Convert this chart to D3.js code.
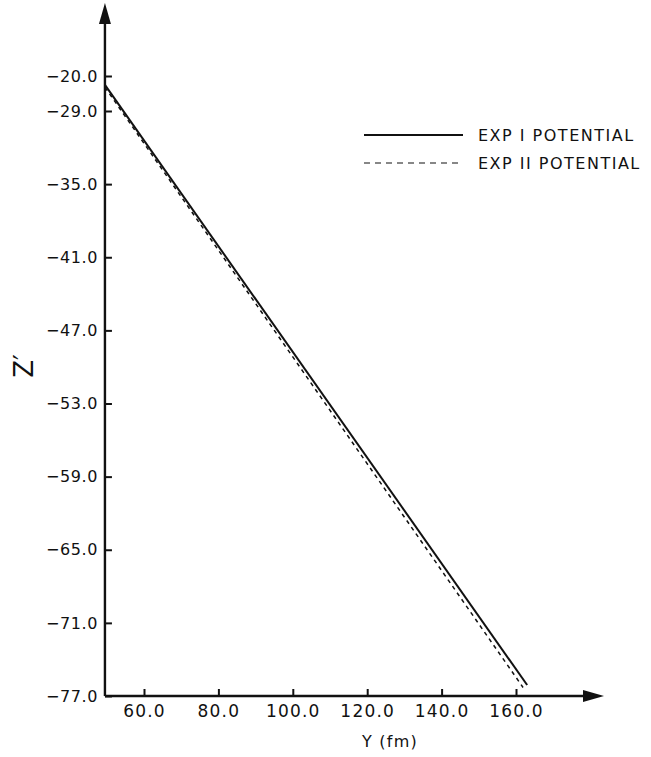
<!DOCTYPE html>
<html>
<head>
<meta charset="utf-8">
<script src="https://cdn.jsdelivr.net/npm/d3@7"></script>
<style>
  body { margin: 0; background: #fff; }
  svg { display: block; }
  text { font-family: "DejaVu Sans", sans-serif; fill: #111; }
</style>
</head>
<body>
<svg width="651" height="757"></svg>
<script>
const width = 651, height = 757;

// data
const yTicks = [-20, -29, -35, -41, -47, -53, -59, -65, -71, -77];
const xTicks = [60, 80, 100, 120, 140, 160];
const exp1Y = [49.5, 163.0];
const exp1Z = [-22.3, -76.1];
const exp2Y = [49.5, 161.9];
const exp2Z = [-22.9, -76.3];
const legendLabels = ["EXP I POTENTIAL", "EXP II POTENTIAL"];

const svg = d3.select("svg");

const x = d3.scaleLinear().domain([60, 160]).range([144, 516]);
// the axis has a break above -29
const y = d3.scaleLinear().domain([-77, -29, -20]).range([696, 111, 76]);

const x0 = x(49.5), y0 = y(-77);

// axes lines with arrows
svg.append("line")
    .attr("x1", x0).attr("x2", x0)
    .attr("y1", y0).attr("y2", 20)
    .attr("stroke", "#111").attr("stroke-width", 2.4);
svg.append("polygon")
    .attr("points", `${x0},3 ${x0 - 6},24 ${x0 + 6},24`)
    .attr("fill", "#111");

svg.append("line")
    .attr("x1", x0).attr("x2", 588)
    .attr("y1", y0).attr("y2", y0)
    .attr("stroke", "#111").attr("stroke-width", 2.4);
svg.append("polygon")
    .attr("points", `604,${y0} 583,${y0 - 6} 583,${y0 + 6}`)
    .attr("fill", "#111");

// y ticks (pointing inward)
const yAxis = svg.append("g")
    .attr("transform", `translate(${x0},0)`)
    .call(d3.axisLeft(y).tickValues(yTicks)
        .tickSizeInner(-7).tickSizeOuter(0).tickPadding(7)
        .tickFormat(d => "\u2212" + Math.abs(d).toFixed(1)));
yAxis.select(".domain").remove();
yAxis.selectAll(".tick line").attr("stroke", "#111").attr("stroke-width", 2);
yAxis.selectAll(".tick text")
    .style("font-size", "16px")
    .style("letter-spacing", "0.6px");

// x ticks
const xAxis = svg.append("g")
    .attr("transform", `translate(0,${y0})`)
    .call(d3.axisBottom(x).tickValues(xTicks)
        .tickSizeInner(-7).tickSizeOuter(0).tickPadding(9)
        .tickFormat(d => d.toFixed(1)));
xAxis.select(".domain").remove();
xAxis.selectAll(".tick line").attr("stroke", "#111").attr("stroke-width", 2);
xAxis.selectAll(".tick text")
    .style("font-size", "17px")
    .style("letter-spacing", "1.2px");

// axis titles
svg.append("text")
    .attr("x", 390).attr("y", 747)
    .attr("text-anchor", "middle")
    .style("font-size", "16px")
    .style("letter-spacing", "1.2px")
    .text("Y (fm)");

svg.append("text")
    .attr("transform", "translate(33,366) rotate(-90)")
    .attr("text-anchor", "middle")
    .style("font-size", "26px")
    .text("Z\u2032");

// curves
const line = d3.line().x(d => x(d[0])).y(d => y(d[1]));
const exp1 = exp1Y.map((v, i) => [v, exp1Z[i]]);
const exp2 = exp2Y.map((v, i) => [v, exp2Z[i]]);

svg.append("path")
    .attr("d", line(exp2))
    .attr("fill", "none")
    .attr("stroke", "#111")
    .attr("stroke-width", 1.5)
    .attr("stroke-dasharray", "4,4");

svg.append("path")
    .attr("d", line(exp1))
    .attr("fill", "none")
    .attr("stroke", "#111")
    .attr("stroke-width", 2);

// legend
const legend = svg.append("g");
legendLabels.forEach((lab, i) => {
    const ly = 135 + i * 28;
    legend.append("line")
        .attr("x1", 364).attr("x2", 463)
        .attr("y1", ly).attr("y2", ly)
        .attr("stroke", "#111")
        .attr("stroke-width", i === 0 ? 1.8 : 1.2)
        .attr("stroke-dasharray", i === 0 ? null : "6,5");
    legend.append("text")
        .attr("x", 478).attr("y", ly)
        .attr("dy", "0.35em")
        .style("font-size", "16px")
        .style("letter-spacing", "1.5px")
        .text(lab);
});
</script>
</body>
</html>
